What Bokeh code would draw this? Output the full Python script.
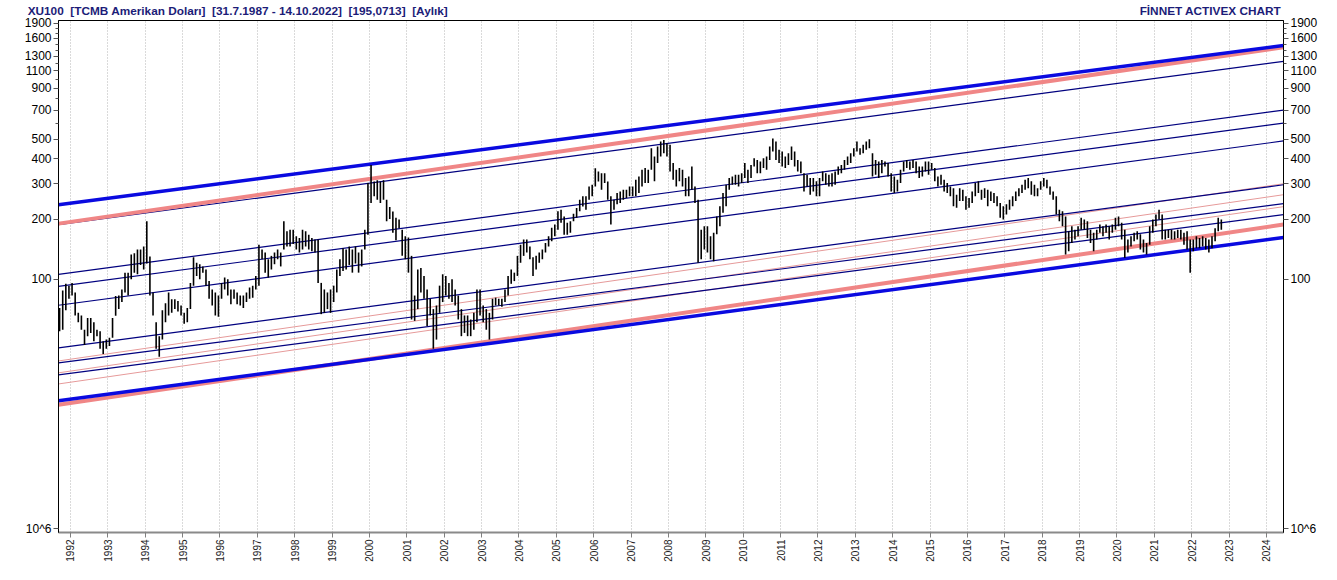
import numpy as np
from math import pi
from bokeh.plotting import figure
from bokeh.models import Range1d, FixedTicker, LogAxis, LinearAxis, NumeralTickFormatter
from bokeh.embed import file_html
from bokeh.resources import INLINE

# ---------------- data (monthly XU100 in USD) ----------------
start_year, start_month = 1991, 9

highs = [
    72, 88, 95, 93,                                                  # 1991 Sep-Dec
    96, 86, 68, 66, 56, 64, 64, 61, 56, 55, 49, 50,                  # 1992
    51, 64, 82.6, 83, 89, 108, 108, 133, 135, 141, 141, 146,         # 1993
    195, 130, 86, 61, 52, 70, 76, 86, 79.5, 79.5, 78, 74,            # 1994
    68, 72, 96, 129, 121, 119, 116, 112, 98, 89, 86, 83,             # 1995
    96, 102, 100, 89, 89, 86, 83, 83, 86, 91, 93, 104,               # 1996
    149, 141, 136, 126, 131, 136, 141, 136, 195, 174, 177, 177,      # 1997
    164, 161, 177, 174, 167, 161, 158, 158, 96, 89, 86, 89,          # 1998
    93, 112, 126, 143, 141, 146, 141, 146, 136, 141, 177, 303,       # 1999
    373, 308, 313, 308, 313, 250, 230, 218, 203, 199, 177, 164,      # 2000
    162, 131, 83, 112, 114, 104, 89, 80, 71, 74, 93, 106,            # 2001
    104, 96, 100, 89, 83, 71, 66, 66, 63, 68, 89, 89,                # 2002
    74, 71, 68, 80, 81, 80, 80, 89, 104, 112, 108, 131,              # 2003
    149, 158, 158, 146, 129, 131, 136, 141, 152, 164, 181, 188,      # 2004
    219, 223, 206, 192, 195, 213, 227, 250, 260, 260, 291, 297,      # 2005
    359, 346, 339, 339, 308, 260, 250, 270, 275, 280, 280, 291,      # 2006
    291, 315, 327, 353, 360, 353, 452, 411, 461, 488, 497, 479,      # 2007
    470, 381, 353, 360, 353, 321, 327, 366, 291, 250, 177, 184,      # 2008
    184, 164, 171, 206, 232, 270, 297, 321, 327, 333, 333, 339,      # 2009
    381, 353, 373, 403, 395, 388, 403, 411, 461, 506, 488, 444,      # 2010
    436, 411, 427, 461, 436, 395, 388, 339, 333, 321, 321, 309,      # 2011
    321, 346, 339, 333, 339, 346, 366, 373, 395, 411, 427, 452,      # 2012
    488, 452, 470, 488, 502, 427, 395, 388, 395, 388, 381, 339,      # 2013
    327, 315, 353, 388, 395, 388, 395, 388, 366, 366, 388, 388,      # 2014
    381, 360, 327, 333, 315, 303, 291, 285, 265, 285, 280, 260,      # 2015
    255, 275, 303, 309, 280, 285, 280, 275, 270, 260, 241, 232,      # 2016
    237, 250, 260, 275, 285, 297, 315, 321, 309, 297, 285, 309,      # 2017
    321, 315, 291, 275, 260, 223, 219, 206, 174, 184, 177, 184,      # 2018
    203, 199, 195, 177, 171, 177, 188, 184, 188, 184, 188, 203,      # 2019
    206, 192, 177, 158, 164, 171, 174, 168, 158, 152, 184, 199,      # 2020
    211, 223, 211, 177, 177, 177, 174, 177, 177, 171, 174, 158,      # 2021
    158, 164, 161, 164, 161, 158, 164, 180, 203, 199,                # 2022 Jan-Oct
]

lows = [
    55, 56, 70, 80,                                                  # 1991 Sep-Dec
    83, 66, 61, 56, 47, 52, 54, 49, 52, 45, 42.3, 45,                # 1992
    46.5, 51, 65.7, 71, 77, 86, 83, 100, 108, 106, 118, 112,         # 1993
    120, 83, 66, 45, 41, 50, 61, 66, 68, 71, 69, 66,                 # 1994
    60, 61, 71, 93, 104, 100, 108, 93, 80, 74, 66, 65,               # 1995
    80, 89, 83, 75, 80, 75, 74, 72, 77, 80, 81, 89,                  # 1996
    93, 126, 108, 102, 112, 119, 126, 116, 141, 146, 146, 150,       # 1997
    141, 136, 141, 146, 141, 138, 136, 96, 67, 68, 71, 68,           # 1998
    77, 86, 104, 110, 112, 118, 108, 120, 108, 116, 141, 167,        # 1999
    241, 260, 250, 241, 250, 195, 200, 171, 157, 180, 131, 126,      # 2000
    108, 63, 62, 71, 86, 80, 58.5, 66, 45, 50, 68, 77,               # 2001
    83, 80, 77, 74, 63, 52, 54, 52, 52, 56, 61, 66,                  # 2002
    61, 56, 50, 63, 74, 74, 73, 77, 83, 95, 98, 104,                 # 2003
    121, 131, 136, 126, 104, 112, 121, 126, 136, 146, 155, 164,      # 2004
    177, 192, 167, 167, 171, 195, 203, 219, 231, 223, 250, 260,      # 2005
    291, 308, 280, 303, 250, 188, 223, 237, 241, 250, 255, 260,      # 2006
    260, 260, 270, 291, 303, 303, 353, 309, 381, 411, 427, 411,      # 2007
    346, 315, 291, 309, 291, 260, 260, 280, 241, 121, 126, 141,      # 2008
    136, 126, 123, 168, 184, 215, 232, 280, 297, 297, 291, 303,      # 2009
    321, 303, 321, 366, 339, 339, 360, 353, 395, 436, 395, 381,      # 2010
    366, 360, 373, 395, 366, 346, 339, 275, 291, 265, 275, 260,      # 2011
    260, 309, 297, 291, 291, 297, 333, 339, 353, 373, 381, 411,      # 2012
    436, 419, 427, 444, 452, 327, 333, 321, 339, 366, 327, 275,      # 2013
    270, 275, 303, 346, 360, 353, 360, 339, 321, 327, 346, 333,      # 2014
    353, 309, 291, 297, 275, 270, 260, 232, 228, 246, 246, 223,      # 2015
    228, 241, 260, 270, 250, 255, 232, 246, 241, 232, 203, 199,      # 2016
    211, 223, 232, 246, 260, 270, 280, 285, 265, 260, 260, 280,      # 2017
    291, 285, 265, 250, 211, 195, 184, 133, 138, 152, 158, 164,      # 2018
    177, 177, 161, 152, 138, 158, 171, 164, 171, 158, 171, 177,      # 2019
    184, 158, 128, 136, 146, 155, 158, 141, 136, 133, 149, 171,      # 2020
    184, 199, 158, 158, 161, 158, 158, 161, 158, 149, 141, 108,      # 2021
    138, 143, 143, 146, 141, 136, 143, 155, 174, 177,                # 2022 Jan-Oct
]

# trend channel anchors: values at the left and right edge of the view
view_start, view_end = 1991.679, 2024.455
value_min, value_max = 5.43, 1966
blue_thick_left = [236.1, 24.7]
blue_thick_right = [1476, 161.8]
pink_thick_left = [189.9, 23.6]
pink_thick_right = [1443, 187.8]
navy_left = [187.8, 105.9, 92.3, 74.2, 45.4, 38.2, 33.3]
navy_right = [1229, 701, 604, 491.6, 297, 238.8, 210.6]
pink_thin_left = [39.1, 34.1, 30.0]
pink_thin_right = [300.4, 264.8, 230.8]

year_ticks = list(range(1992, 2025))
y_major = [100, 200, 300, 400, 500, 700, 900, 1100, 1300, 1600, 1900]
y_minor = [600, 800, 1000, 1200, 1400, 1500, 1700, 1800]
scale_tick = 5.67            # where the "10^6" scale tag sits on both value axes
scale_text = "10^6"

SP2 = "\u00a0 "              # double gap that survives SVG whitespace collapsing
title_text = SP2.join(["XU100", "[TCMB Amerikan Doları]", "[31.7.1987 - 14.10.2022]",
                       "[195,0713]", "[Aylık]"])
brand_text = "FİNNET ACTIVEX CHART"
title_at, brand_at = 1996.48, 2022.50   # horizontal centres of the header texts (years)

# ---------------- figure ----------------
FONT = "Liberation Sans"
n = len(highs)
t = start_year + (np.arange(n) + (start_month - 1) + 0.5) / 12.0

p = figure(width=1321, height=564, title=None,
           x_range=Range1d(view_start, view_end), y_range=Range1d(value_min, value_max),
           y_axis_type="log", output_backend="svg", toolbar_location=None,
           min_border_left=58, min_border_right=38, min_border_top=20, min_border_bottom=30,
           background_fill_color="white", border_fill_color="white")
p.outline_line_color = "black"
p.outline_line_width = 1

# grids
p.ygrid.visible = False
p.xgrid.ticker = FixedTicker(ticks=year_ticks)
p.xgrid.grid_line_color = "#b4b4b4"
p.xgrid.grid_line_dash = "1 2"
p.xgrid.grid_line_width = 1

# x axis (years, vertical labels)
xa = p.xaxis[0]
xa.ticker = FixedTicker(ticks=year_ticks)
xa.major_label_orientation = pi / 2
xa.major_label_text_font = FONT
xa.major_label_text_font_size = "10px"
xa.major_label_text_color = "#222222"
xa.major_label_standoff = 2
xa.major_tick_out = 5
xa.major_tick_in = 0
xa.major_tick_line_color = "#808080"
xa.minor_tick_line_color = None
xa.axis_line_color = "#8a8a8a"
xa.axis_line_width = 2

# header row, drawn as the labels of an invisible top axis
head = LinearAxis(ticker=FixedTicker(ticks=[title_at, brand_at]),
                  major_label_overrides={title_at: title_text, brand_at: brand_text})
head.axis_line_color = None
head.major_tick_line_color = None
head.minor_tick_line_color = None
head.major_tick_out = 0
head.major_tick_in = 0
head.major_label_standoff = 3
head.major_label_text_font = FONT
head.major_label_text_font_size = "11.8px"
head.major_label_text_font_style = "bold"
head.major_label_text_color = "#1c1c78"
p.add_layout(head, "above")

# y axes
def style_y(ax):
    ax.ticker = FixedTicker(ticks=y_major + [scale_tick], minor_ticks=y_minor)
    ax.formatter = NumeralTickFormatter(format="0")
    ax.major_label_overrides = {scale_tick: scale_text}
    ax.major_label_text_font = FONT
    ax.major_label_text_font_size = "12px"
    ax.major_label_text_color = "black"
    ax.major_label_standoff = 2
    ax.major_tick_out = 5
    ax.major_tick_in = 0
    ax.minor_tick_out = 3
    ax.minor_tick_in = 0
    ax.axis_line_color = "black"
    ax.major_tick_line_color = "#555555"
    ax.minor_tick_line_color = "#555555"

style_y(p.yaxis[0])
ra = LogAxis()
style_y(ra)
p.add_layout(ra, "right")

# trend lines
def lines(lefts, rights, color, width):
    xs = [[view_start, view_end] for _ in lefts]
    ys = [[a, b] for a, b in zip(lefts, rights)]
    p.multi_line(xs, ys, line_color=color, line_width=width)

lines(pink_thin_left, pink_thin_right, "#e69a9a", 1)
lines(navy_left, navy_right, "#00007f", 1.2)
lines(pink_thick_left, pink_thick_right, "#f08686", 4)
lines(blue_thick_left, blue_thick_right, "#0a0ae0", 3.5)

# monthly bars
p.segment(x0=t, y0=lows, x1=t, y1=highs, line_color="black", line_width=1.6)

open("out.html", "w").write(file_html(p, INLINE))
